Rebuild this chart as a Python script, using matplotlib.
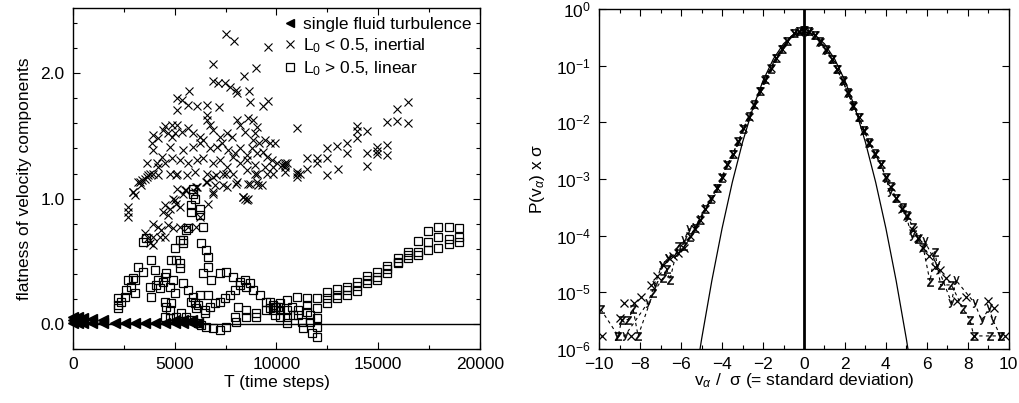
import matplotlib
matplotlib.use("Agg")
import matplotlib.pyplot as plt
from matplotlib.ticker import MultipleLocator, FormatStrFormatter, FixedLocator, NullLocator

plt.rcParams['font.family'] = ['Liberation Sans', 'DejaVu Sans']
plt.rcParams['mathtext.fontset'] = 'custom'
plt.rcParams['mathtext.rm'] = 'Liberation Sans'
plt.rcParams['mathtext.it'] = 'Liberation Sans:italic'
plt.rcParams['mathtext.sf'] = 'Liberation Sans'

# ---- left panel: flatness vs time ----
tri_T = [0, 0, 0, 250, 250, 250, 510, 510, 920, 920, 1490, 1490, 2060, 2555,
         3050, 3540, 4030, 4520, 5010, 5010, 5420, 5420, 5830, 5830, 6160]
tri_F = [0.058, 0.032, 0.005, 0.058, 0.032, 0.005, 0.045, 0.01, 0.04, 0.01,
         0.03, 0.005, 0.005, 0.005, 0.005, 0.005, 0.005, 0.005, 0.03, 0.005,
         0.03, 0.005, 0.03, 0.005, 0.005]

cross_T = [7520, 7925, 9600, 6900, 8990, 8400,
           6900, 7140, 7470, 7715, 8010, 8075, 8665, 5720,
           5095, 5340, 5670, 6080, 6570, 7190, 5125, 8700, 9320, 9600,
           6570, 10990, 4520, 4850, 5095, 4440, 3950, 4190, 3870, 3950,
           4685, 4850, 5010, 5340, 5670, 5910, 6240, 6400,
           6570, 6730, 6900, 7225, 7550, 7800, 8045, 8210, 8450, 8615, 8860, 9030, 8940, 8860, 9155, 9435, 9680, 9925,
           4770, 5420, 5910, 6240, 6730, 7060, 7310, 7630, 7960, 8210, 8535, 8780, 9030, 9350, 9520, 9765, 10010, 10260, 10500, 10990, 11155,
           3620, 4110, 4360, 4850, 5260, 5670, 6080, 6400, 6900, 7225, 7550, 7880, 8210, 8535, 8940, 9435, 9845, 10420,
           2965, 3210, 3375, 3620, 3785, 4190, 4520,
           4770, 5095, 5585, 5995, 6570, 6900, 7390, 7880, 8535, 9030, 9520, 9845,
           5095, 5505, 6080, 6570, 6900, 6980, 7550, 8045, 8370, 8615, 9030, 9275,
           10420, 10420, 10420, 10990, 10990, 11485, 11485, 11975, 11975, 12470, 12470, 12470, 12960, 13040,
           13450, 13450, 13940, 13940, 13940, 14460, 14460, 14460, 14955, 14955, 14955, 15445, 15445, 15445,
           15935, 15935, 16445, 16445,
           2700, 2700, 2700, 2950, 3030, 3275, 3360, 3520, 3685, 3930, 4180,
           5080, 5405, 5570, 4915, 5080, 5240, 4750, 4505, 4420, 4670,
           3930, 4180, 4340, 4670, 4915, 5240, 5650, 6060, 6225, 6060, 5980,
           3520, 3685, 3930, 4260, 4505, 3770, 3930,
           6550, 6880, 6630, 7045, 7535, 8025, 7370, 8925, 8680, 9090, 8355, 8600,
           5010, 8450, 8550]
cross_F = [2.31, 2.26, 2.21, 2.07, 2.04, 1.98,
           1.94, 1.92, 1.92, 1.89, 1.87, 1.84, 1.86, 1.86,
           1.80, 1.785, 1.745, 1.737, 1.745, 1.73, 1.71, 1.77, 1.74, 1.78,
           1.665, 1.565, 1.58, 1.59, 1.59, 1.545, 1.505, 1.48, 1.44, 1.39,
           1.525, 1.49, 1.52, 1.53, 1.56, 1.52, 1.49, 1.466,
           1.625, 1.585, 1.545, 1.49, 1.52, 1.49, 1.625, 1.585, 1.53, 1.64, 1.625, 1.57, 1.52, 1.466, 1.44, 1.466, 1.44, 1.44,
           1.413, 1.386, 1.413, 1.44, 1.40, 1.413, 1.44, 1.386, 1.36, 1.40, 1.347, 1.40, 1.36, 1.373, 1.333, 1.307, 1.28, 1.267, 1.28, 1.21, 1.20,
           1.28, 1.28, 1.333, 1.32, 1.307, 1.28, 1.307, 1.32, 1.28, 1.307, 1.253, 1.333, 1.28, 1.307, 1.267, 1.253, 1.253, 1.267,
           1.054, 1.134, 1.147, 1.173, 1.20, 1.253, 1.28,
           1.20, 1.20, 1.187, 1.21, 1.20, 1.173, 1.20, 1.20, 1.227, 1.20, 1.20, 1.20,
           1.08, 1.067, 1.094, 1.134, 1.04, 1.107, 1.094, 1.134, 1.014, 1.12, 1.134, 1.107,
           1.28, 1.253, 1.215, 1.20, 1.173, 1.32, 1.24, 1.32, 1.28, 1.40, 1.32, 1.187, 1.418, 1.24,
           1.44, 1.36, 1.578, 1.54, 1.48, 1.537, 1.36, 1.259, 1.413, 1.38, 1.352, 1.426, 1.346, 1.607,
           1.718, 1.617, 1.77, 1.605,
           0.935, 0.895, 0.855, 1.054, 1.028, 1.134, 1.107, 1.16, 1.187, 1.20, 1.187,
           1.187, 1.04, 1.067, 1.00, 0.96, 0.935, 0.92, 0.947, 0.895, 0.869,
           0.80, 0.775, 0.75, 0.79, 0.763, 0.775, 0.775, 0.775, 0.855, 1.094, 1.054,
           0.723, 0.683, 0.695, 0.695, 0.695, 0.643, 0.63,
           1.134, 1.054, 0.96, 1.187, 1.20, 1.12, 1.107, 1.20, 1.12, 1.107, 1.014, 1.00,
           0.99, 1.0, 0.99]

square_T = [2210, 2210, 2210, 2375, 2540, 2620, 2865, 3030, 3195, 3440, 3030, 2700, 2950,
            3440, 3600, 3850, 4010, 3770, 3850, 4095, 4180, 4420, 4505, 4585, 4260, 4750, 4915, 5000, 4505, 4585, 4830, 4750,
            4830, 5080, 5240, 5240, 5000, 5240, 5405, 5405, 5570, 5650, 5815, 5815, 5980, 6225, 6225, 6390, 6305, 6550, 6630, 6630, 6390,
            5405, 5650, 5900, 5815, 5980, 6140, 6060, 6225, 6630, 6470,
            4505, 4750, 5080, 5325, 5570, 5815, 6140, 6305, 6550, 6880, 7205, 7535,
            6470, 6715, 6960, 7205, 7450, 7700, 7945, 8190, 8435, 8680,
            6800, 7205, 7535, 7860, 8190, 8520, 8845, 9175, 9500, 9830, 9990,
            7945, 8025, 8110, 8520, 8520, 9010, 9010, 9500, 9830, 10070, 10155,
            9680, 9680, 9925, 9925, 10170, 10170, 10500, 10500, 10500, 10500, 10745, 10825, 10990, 11075, 11075,
            11240, 11320, 11485, 11485, 11485, 11645, 11645, 11730, 11975, 11975, 11975, 11975, 11975,
            12465, 12465, 12465, 12955, 12955, 12955, 13480, 13480, 13480, 13970, 13970, 13970,
            14460, 14460, 14460, 14955, 14955, 14955, 15445, 15445, 15445, 15955, 15955, 15955,
            16480, 16480, 16480, 16970, 16970, 16970, 17460, 17460, 17460, 17950, 17950, 17950,
            18475, 18475, 18475, 18970, 18970, 18970,
            5900, 5900]
square_F = [0.205, 0.151, 0.125, 0.178, 0.218, 0.271, 0.297, 0.35, 0.457, 0.417, 0.245, 0.35, 0.364,
            0.656, 0.683, 0.51, 0.43, 0.297, 0.218, 0.31, 0.35, 0.337, 0.377, 0.404, 0.284, 0.297, 0.35, 0.245, 0.178, 0.138, 0.165, 0.112,
            0.51, 0.51, 0.484, 0.444, 0.603, 0.67, 0.67, 0.643, 0.75, 0.762, 0.948, 0.895, 1.00, 0.92, 0.87, 0.775, 0.643, 0.59, 0.536, 0.457, 0.404,
            0.324, 0.271, 0.218, 0.178, 0.165, 0.151, 0.125, 0.231, 0.231, 0.085,
            0.058, 0.045, 0.058, 0.085, 0.058, 0.032, 0.005, -0.008, -0.021, -0.035, -0.048, -0.021,
            0.112, 0.138, 0.165, 0.178, 0.205, 0.231, 0.271, 0.31, 0.35, 0.324,
            0.35, 0.404, 0.417, 0.377, 0.337, 0.297, 0.271, 0.231, 0.178, 0.151, 0.138,
            0.058, 0.018, 0.138, 0.112, 0.058, 0.085, 0.058, 0.112, 0.112, 0.138, 0.058,
            0.178, 0.125, 0.138, 0.072, 0.165, 0.112, 0.191, 0.112, 0.058, 0.005, 0.138, 0.072, 0.218, 0.112, 0.072,
            0.018, -0.035, 0.205, 0.151, 0.098, 0.072, 0.018, -0.074, 0.205, 0.125, 0.045, -0.021, -0.101,
            0.258, 0.205, 0.165, 0.276, 0.231, 0.205, 0.297, 0.271, 0.231, 0.337, 0.303, 0.265,
            0.382, 0.35, 0.324, 0.417, 0.377, 0.35, 0.462, 0.436, 0.409, 0.523, 0.497, 0.484,
            0.576, 0.55, 0.523, 0.664, 0.576, 0.55, 0.741, 0.656, 0.59, 0.775, 0.691, 0.603,
            0.775, 0.675, 0.635, 0.762, 0.696, 0.656,
            1.08, 1.04]

# ---- right panel: velocity PDFs ----
vx_x = [-9.85, -9.0, -8.78, -8.45, -8.29, -7.97, -7.45, -7.2, -6.9, -6.6, -6.4, -6.15, -5.85,
        -5.58, -5.33, -5.09, -4.81, -4.52, -4.27, -4.01, -3.74, -3.48, -3.20, -2.96, -2.68,
        -2.42, -2.15, -1.90, -1.63, -1.37, -1.09, -0.81, -0.49, -0.24, 0.0, 0.24, 0.54, 0.78,
        1.07, 1.35, 1.59, 1.89, 2.13, 2.41, 2.68, 2.93, 3.19, 3.46, 3.74, 4.0, 4.23, 4.49,
        4.77, 5.01, 5.30, 5.58, 5.82, 6.10, 6.39, 6.63, 6.93, 7.45, 7.90, 8.29, 8.99, 9.27, 9.80]
px_x = [1.7e-6, 3.5e-6, 6.6e-6, 1.7e-6, 6.6e-6, 8.3e-6, 1.35e-5, 1.95e-5, 3.0e-5, 4.0e-5, 4.3e-5, 5.0e-5, 6.0e-5,
        9.8e-5, 1.3e-4, 1.9e-4, 2.95e-4, 4.6e-4, 6.9e-4, 1.07e-3, 1.8e-3, 2.8e-3, 4.6e-3, 7.9e-3, 0.0126,
        0.0204, 0.035, 0.056, 0.089, 0.135, 0.195, 0.275, 0.372, 0.398, 0.427, 0.398, 0.339, 0.263,
        0.19, 0.129, 0.087, 0.054, 0.033, 0.0195, 0.0123, 0.0071, 0.0043, 0.00275, 0.0018, 1.07e-3, 7.2e-4, 4.6e-4,
        3.0e-4, 2.2e-4, 1.26e-4, 8.9e-5, 6.0e-5, 4.3e-5, 2.8e-5, 2.45e-5, 1.8e-5, 6.9e-6, 8.3e-6, 1.7e-6, 6.9e-6, 5.2e-6, 1.7e-6]

vy_x = [-9.15, -8.75, -7.64, -7.28, -6.95, -6.63, -6.15, -5.85, -5.63, -5.33, -5.09, -4.81, -4.52,
        -4.27, -4.01, -3.74, -3.48, -3.20, -2.96, -2.68, -2.42, -2.15, -1.90, -1.63, -1.37, -1.09,
        -0.81, -0.49, -0.24, 0.0, 0.24, 0.54, 0.78, 1.07, 1.35, 1.59, 1.89, 2.13, 2.41, 2.68, 2.93,
        3.19, 3.46, 3.74, 4.0, 4.2, 4.49, 4.77, 5.01, 5.25, 5.58, 5.9, 6.5, 7.2, 7.41, 8.34, 8.67,
        9.04, 9.23, 9.59]
vy_p = [1.7e-6, 1.7e-6, 6.4e-6, 1.35e-5, 3.0e-5, 4.0e-5, 5.2e-5, 8.3e-5, 1.3e-4, 1.4e-4, 2.0e-4, 3.1e-4, 4.5e-4,
        7.0e-4, 1.1e-3, 1.8e-3, 2.8e-3, 4.5e-3, 7.8e-3, 0.0125, 0.0202, 0.035, 0.056, 0.089, 0.134, 0.193,
        0.272, 0.37, 0.40, 0.42, 0.40, 0.34, 0.262, 0.19, 0.129, 0.087, 0.054, 0.033, 0.0195, 0.0122, 0.0072,
        0.0043, 0.0028, 0.0018, 1.05e-3, 6.0e-4, 4.7e-4, 3.1e-4, 2.1e-4, 1.0e-4, 9.0e-5, 7.9e-5, 3.0e-5, 6.6e-6, 1.65e-5, 6.4e-6, 3.2e-6,
        5.2e-6, 3.2e-6, 1.7e-6]

vz_x = [-9.92, -9.07, -8.9, -8.59, -8.34, -8.1, -7.37, -6.88, -6.71, -6.55, -6.15, -5.85, -5.58,
        -5.33, -5.09, -4.81, -4.52, -4.27, -4.01, -3.74, -3.48, -3.20, -2.96, -2.68, -2.42, -2.15,
        -1.90, -1.63, -1.37, -1.09, -0.81, -0.49, -0.24, 0.0, 0.24, 0.54, 0.78, 1.07, 1.35, 1.59,
        1.89, 2.13, 2.41, 2.68, 2.93, 3.19, 3.46, 3.74, 4.0, 4.23, 4.49, 4.85, 5.01, 5.33, 5.58,
        5.82, 6.15, 6.39, 6.67, 7.2, 7.78, 8.1, 8.29, 9.07, 9.6]
vz_p = [5.0e-6, 1.7e-6, 3.3e-6, 3.3e-6, 5.0e-6, 1.7e-6, 9.6e-6, 1.8e-5, 2.6e-5, 1.65e-5, 6.6e-5, 6.5e-5, 9.5e-5,
        1.35e-4, 1.9e-4, 2.9e-4, 4.4e-4, 6.8e-4, 1.05e-3, 1.75e-3, 2.75e-3, 4.6e-3, 7.7e-3, 0.0128, 0.0208, 0.036,
        0.057, 0.088, 0.136, 0.196, 0.276, 0.375, 0.41, 0.43, 0.405, 0.345, 0.266, 0.192, 0.131, 0.088,
        0.055, 0.034, 0.0198, 0.0125, 0.0073, 0.0044, 0.0029, 0.00185, 1.1e-3, 7.4e-4, 4.6e-4, 3.2e-4, 2.3e-4, 1.4e-4, 8.7e-5,
        6.2e-5, 1.55e-5, 5.2e-5, 1.35e-5, 1.35e-5, 5.0e-6, 3.3e-6, 1.7e-6, 1.7e-6, 1.7e-6]

# gaussian reference curve
gauss_x = [-5.5, -5.0, -4.5, -4.0, -3.5, -3.0, -2.5, -2.0, -1.5, -1.0, -0.5, 0.0,
           0.5, 1.0, 1.5, 2.0, 2.5, 3.0, 3.5, 4.0, 4.5, 5.0, 5.5]
gauss_p = [1.077e-7, 1.487e-6, 1.598e-5, 1.338e-4, 8.727e-4, 4.432e-3, 1.753e-2, 5.399e-2, 0.1295, 0.2420, 0.3521, 0.3989,
           0.3521, 0.2420, 0.1295, 5.399e-2, 1.753e-2, 4.432e-3, 8.727e-4, 1.338e-4, 1.598e-5, 1.487e-6, 1.077e-7]

log_ticks = [1e-6, 1e-5, 1e-4, 1e-3, 1e-2, 1e-1, 1]

fig = plt.figure(figsize=(10.19, 4.03), dpi=100)
ax1 = fig.add_axes([0.0716, 0.134, 0.3994, 0.846])
ax2 = fig.add_axes([0.588, 0.134, 0.402, 0.844])

fs = 12.5

ax1.axhline(0, color='k', lw=1)
ax1.plot(tri_T, tri_F, ls='none', marker='<', ms=7.5, color='k', clip_on=False,
         label='single fluid turbulence')
ax1.plot(cross_T, cross_F, ls='none', marker='x', ms=6, mew=0.8, color='k',
         label='L$_0$ < 0.5, inertial')
ax1.plot(square_T, square_F, ls='none', marker='s', ms=6.2, mew=0.9, mfc='none', mec='k',
         label='L$_0$ > 0.5, linear')
ax1.set_xlim(0, 20000)
ax1.set_ylim(-0.2, 2.52)
ax1.xaxis.set_major_locator(MultipleLocator(5000))
ax1.xaxis.set_minor_locator(MultipleLocator(2500))
ax1.yaxis.set_major_locator(FixedLocator([0.0, 1.0, 2.0]))
ax1.yaxis.set_minor_locator(MultipleLocator(0.2))
ax1.yaxis.set_major_formatter(FormatStrFormatter('%.1f'))
ax1.set_xlabel('T (time steps)', fontsize=fs, labelpad=2)
ax1.set_ylabel('flatness of velocity components', fontsize=fs, labelpad=6)
leg = ax1.legend(loc='upper right', frameon=False, fontsize=12.5, handlelength=0.7,
                 handletextpad=0.4, borderaxespad=0.1, labelspacing=0.25,
                 markerscale=0.85)

ax2.axvline(0, color='k', lw=2)
ax2.plot(gauss_x, gauss_p, color='k', lw=0.9)
ax2.plot(vz_x, vz_p, ls=(0, (3, 3)), lw=0.8, color='k', marker='$\\mathsf{z}$', ms=6, mew=0.3)
ax2.plot(vy_x, vy_p, ls=(0, (3, 3)), lw=0.8, color='k', marker='$\\mathsf{y}$', ms=6, mew=0.3)
ax2.plot(vx_x, px_x, ls='none', color='k', marker='x', ms=6, mew=0.9)
ax2.set_yscale('log')
ax2.set_xlim(-10, 10)
ax2.set_ylim(1e-6, 1)
ax2.xaxis.set_major_locator(FixedLocator([-10, -8, -6, -4, -2, 0, 2, 4, 6, 8, 10]))
ax2.xaxis.set_minor_locator(MultipleLocator(1))
ax2.yaxis.set_major_locator(FixedLocator(log_ticks))
ax2.yaxis.set_minor_locator(NullLocator())
ax2.set_xlabel('v$_\\alpha$ /  σ (= standard deviation)', fontsize=fs, labelpad=-1)
ax2.set_ylabel('P(v$_\\alpha$) x σ', fontsize=fs, labelpad=6)

for ax in (ax1, ax2):
    ax.tick_params(which='both', direction='in', top=True, right=True, labelsize=fs)
    ax.tick_params(which='major', length=5, width=0.8, pad=6)
    ax.tick_params(which='minor', length=3, width=0.8)
    for sp in ax.spines.values():
        sp.set_linewidth(1)

fig.savefig('out.png', dpi=100)
